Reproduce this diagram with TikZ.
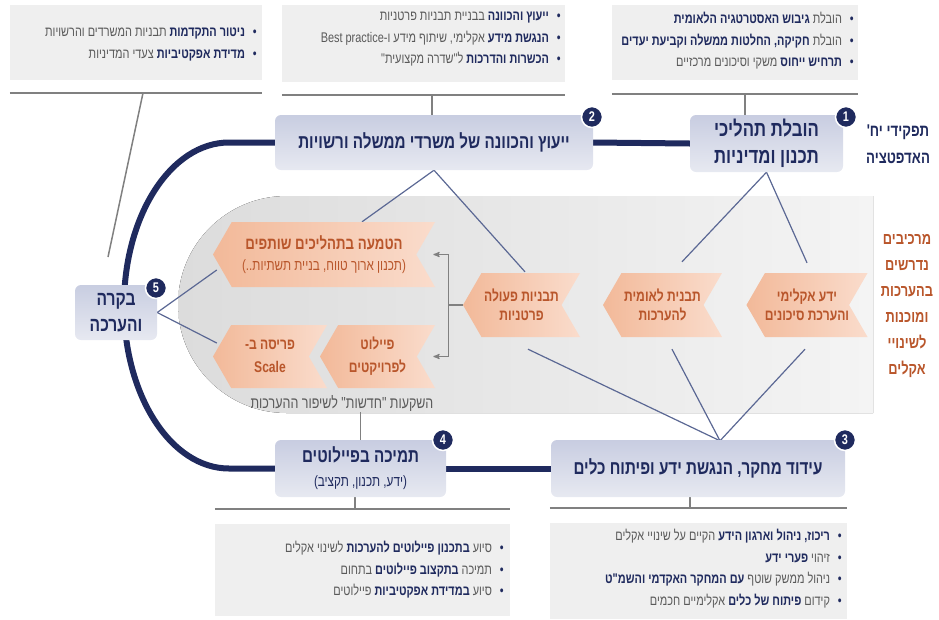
\documentclass[tikz,border=0pt]{standalone}
\usepackage{fontspec}
\setmainfont[Script=Hebrew,FakeStretch=0.78,Ligatures=TeXOff]{Liberation Sans}
\newfontfamily\hlfont[Script=Hebrew,FakeStretch=0.78,Ligatures=TeXOff,Color=1F2A5E]{Liberation Sans}
\usepackage{tikz}
\usetikzlibrary{shapes.symbols,calc}
\usetikzlibrary{arrows}
\TeXXeTstate=1
\definecolor{navy}{HTML}{1F2A5E}
\definecolor{txtgray}{HTML}{5A5A5A}
\definecolor{boxgray}{HTML}{EFEFEF}
\definecolor{linegray}{HTML}{808080}
\definecolor{roleT}{HTML}{C8CDE1}
\definecolor{roleB}{HTML}{E7E9F1}
\definecolor{peachD}{HTML}{F2B999}
\definecolor{peachL}{HTML}{FADCCC}
\definecolor{rust}{HTML}{B9562B}
\definecolor{slate}{HTML}{5B6894}
\definecolor{regL}{HTML}{DCDCDC}
\definecolor{regR}{HTML}{F4F4F4}
\pgfdeclarelayer{bg}
\pgfsetlayers{bg,main}
\newcommand{\heb}[1]{\beginR #1\endR}
% navy bold parts: colour comes from the font, so the RTL reversal keeps it right
\newcommand{\hl}[1]{{\hlfont\bfseries #1}}
\newcommand{\bl}[1]{\beginR{\hlfont\textbullet}\hspace{8pt}#1\endR}
\tikzset{
  rolebox/.style = {rounded corners=6pt, top color=roleT, bottom color=roleB,
    text=navy, font=\bfseries\fontsize{19.5}{26}\selectfont, align=center, inner sep=0pt},
  numdot/.style = {circle, fill=navy, draw=white, line width=1.5pt, text=white,
    font=\bfseries\fontsize{14}{14}\selectfont, inner sep=0pt, minimum size=21pt},
  infobox/.style = {fill=boxgray, inner sep=0pt},
  infotext/.style = {align=right, text=txtgray, font=\fontsize{14}{21.5}\selectfont,
    inner sep=0pt, anchor=north east},
  chev/.style = {signal, signal to=west, signal from=east, signal pointer angle=120,
    left color=peachD, right color=peachL, text=rust,
    font=\bfseries\fontsize{15.5}{19}\selectfont, align=center, inner sep=0pt},
  sidelabel/.style = {align=center, font=\bfseries\fontsize{16.5}{26}\selectfont, inner sep=0pt},
  spine/.style = {navy, line width=6pt},
  link/.style = {slate, line width=1.2pt},
  rule/.style = {linegray, line width=2.5pt},
  tick/.style = {linegray, line width=1.5pt},
  brk/.style = {linegray, line width=1.2pt, >=stealth'},
}
\begin{document}
\begin{tikzpicture}[x=1pt,y=-1pt]
  \useasboundingbox (0,0) rectangle (939,619);

  % info boxes
  \node[infobox, minimum width=252, minimum height=75] (tlbox) at (136,42.5) {};
  \node[infobox, minimum width=283, minimum height=77] (tmbox) at (423.5,43.5) {};
  \node[infobox, minimum width=246, minimum height=75] (trbox) at (735,42.5) {};
  \node[infobox, minimum width=295, minimum height=92] (blbox) at (362.5,570) {};
  \node[infobox, minimum width=297, minimum height=96] (brbox) at (698.5,571) {};

  \node[infotext] (tltx) at (257,28) {\bl{\hl{ניטור התקדמות} תבניות המשרדים והרשויות}\\
    \bl{\hl{מדידת אפקטיביות} צעדי המדיניות}};
  \node[infotext] (tmtx) at (561,12) {\bl{\hl{ייעוץ והכוונה} בבניית תבניות פרטניות}\\
    \bl{\hl{הנגשת מידע} אקלימי, שיתוף מידע ו-\beginL Best practice\endL}\\
    \bl{\hl{הכשרות והדרכות} ל"שדרה מקצועית"}};
  \node[infotext] (trtx) at (854,12) {\bl{הובלת \hl{גיבוש האסטרטגיה הלאומית}}\\
    \bl{הובלת \hl{חקיקה, החלטות ממשלה וקביעת יעדים}}\\
    \bl{\hl{תרחיש ייחוס} משקי וסיכונים מרכזיים}};
  \node[infotext] (bltx) at (504,541) {\bl{סיוע \hl{בתכנון פיילוטים להערכות} לשינוי אקלים}\\
    \bl{תמיכה \hl{בתקצוב פיילוטים} בתחום}\\
    \bl{סיוע \hl{במדידת אפקטיביות} פיילוטים}};
  \node[infotext] (brtx) at (842,529) {\bl{\hl{ריכוז, ניהול וארגון הידע} הקיים על שינויי אקלים}\\
    \bl{זיהוי \hl{פערי ידע}}\\
    \bl{ניהול ממשק שוטף \hl{עם המחקר האקדמי והשמ"ט}}\\
    \bl{קידום \hl{פיתוח של כלים} אקלימיים חכמים}};

  % role boxes
  \node[rolebox, minimum width=153, minimum height=57, font=\bfseries\fontsize{21.5}{27}\selectfont]
    (b1) at (766.5,143.5) {\heb{הובלת תהליכי}\\\heb{תכנון ומדיניות}};
  \node[rolebox, minimum width=318, minimum height=55] (b2) at (434,142.5)
    {\heb{ייעוץ והכוונה של משרדי ממשלה ורשויות}};
  \node[rolebox, minimum width=294, minimum height=57] (b3) at (698,468.5)
    {\heb{עידוד מחקר, הנגשת ידע ופיתוח כלים}};
  \node[rolebox, minimum width=171, minimum height=57] (b4) at (360.5,468.5)
    {\heb{תמיכה בפיילוטים}\\[-2pt]{\mdseries\fontsize{15}{18}\selectfont\heb{(ידע, תכנון, תקציב)}}};
  \node[rolebox, minimum width=82, minimum height=55, font=\bfseries\fontsize{20}{26}\selectfont]
    (b5) at (116,312.5) {\heb{בקרה}\\\heb{והערכה}};

  \node[numdot] (n1) at (846,117) {1};
  \node[numdot] (n2) at (592,117) {2};
  \node[numdot] (n3) at (845,440) {3};
  \node[numdot] (n4) at (443,440) {4};
  \node[numdot] (n5) at (156,288) {5};

  % chevrons
  \node[chev, minimum width=118, minimum height=64] (ky) at (807,305)
    {\heb{ידע אקלימי}\\\heb{והערכת סיכונים}};
  \node[chev, minimum width=119, minimum height=64] (tn) at (662.5,305)
    {\heb{תבנית לאומית}\\\heb{להערכות}};
  \node[chev, minimum width=117, minimum height=64] (tp) at (521.5,305)
    {\heb{תבניות פעולה}\\\heb{פרטניות}};
  \node[chev, minimum width=222, minimum height=65, font=\bfseries\fontsize{17}{19}\selectfont] (hm) at (324,254.5)
    {\heb{הטמעה בתהליכים שותפים}\\[2pt]{\mdseries\fontsize{15}{18}\selectfont\heb{(תכנון ארוך טווח, בניית תשתיות..)}}};
  \node[chev, minimum width=115, minimum height=63] (pl) at (377.5,356.5)
    {\heb{פיילוט}\\[4pt]\heb{לפרויקטים}};
  \node[chev, minimum width=114, minimum height=63] (ps) at (270,356.5)
    {\heb{פריסה ב-}\\[4pt]Scale};

  \node[text=txtgray, font=\fontsize{16}{18}\selectfont, inner sep=1pt] (inv) at (342,403)
    {\heb{השקעות "חדשות" לשיפור ההערכות}};

  \node[sidelabel, text=navy, font=\bfseries\fontsize{17}{27}\selectfont] (roles) at (898,144)
    {\heb{תפקידי יח'}\\\heb{האדפטציה}};
  \node[sidelabel, text=rust] (needs) at (907,306)
    {\heb{מרכיבים}\\\heb{נדרשים}\\\heb{בהערכות}\\\heb{ומוכנות}\\\heb{לשינויי}\\\heb{אקלים}};

  \begin{pgfonlayer}{bg}
    % grey band
    \fill[left color=regL, right color=regR] (873,196) -- (286.5,196)
      arc[start angle=270, end angle=90, radius=108.5] -- (873,413) -- cycle;
    % spine
    \draw[spine] (b2.west) -- (229,142.5)
      arc[start angle=270, end angle=90, x radius=105, y radius=163] -- (b4.west);
    \draw[spine] (b2.east) -- (b1.west);
    \draw[spine] (b4.east) -- (b3.west);
    % rules under the info boxes
    \coordinate (tlr) at (143,93);
    \coordinate (tmr) at (432,95);
    \coordinate (trr) at (745,94);
    \coordinate (blr) at (355,509);
    \coordinate (brr) at (690,508);
    \coordinate (c5) at (108,257);
    \draw[rule] (tlbox.west |- tlr) -- (tlbox.east |- tlr);
    \draw[rule] (tmbox.west |- tmr) -- (tmbox.east |- tmr);
    \draw[rule] (trbox.west |- trr) -- (trbox.east |- trr);
    \draw[rule] (blbox.west |- blr) -- (blbox.east |- blr);
    \draw[rule] (brbox.west |- brr) -- (brbox.east |- brr);
    \draw[tick] (tlr) -- (c5);
    \draw[tick] (b2.north -| tmr) -- (tmr);
    \draw[tick] (b1.north -| trr) -- (trr);
    \draw[tick] (b4.south -| blr) -- (blr);
    \draw[tick] (b3.south -| brr) -- (brr);
    \draw[tick] (b4.north) -- (b4.north |- inv.south);
    % links
    \draw[link] (b1.south) -- ($(tn.north)+(19.5,-11)$);
    \draw[link] (b1.south) -- ($(ky.north)+(0,-10)$);
    \draw[link] (b2.south) -- ($(hm.north)+(38,0)$);
    \draw[link] (b2.south) -- ($(tp.north)+(3.5,-1)$);
    \draw[link] ($(b3.north)+(22,1)$) -- ($(tp.south)+(6.5,12)$);
    \draw[link] ($(b3.north)+(22,1)$) -- ($(tn.south)+(9.5,12)$);
    \draw[link] ($(b3.north)+(22,1)$) -- ($(ky.south)+(-2,12)$);
    \draw[link] (b5.east) -- ($(hm.west)+(4,15.5)$);
    \draw[link] (b5.east) -- ($(ps.west)+(4,-13.5)$);
    % bracket
    \draw[brk] (tp.west) -- ++(-14,0) coordinate (bm);
    \draw[brk,->] (bm) |- ($(hm.north east |- hm.east)+(-2,0)$);
    \draw[brk,->] (bm) |- ($(pl.north east |- pl.east)+(-2,0)$);
  \end{pgfonlayer}
\end{tikzpicture}
\end{document}
